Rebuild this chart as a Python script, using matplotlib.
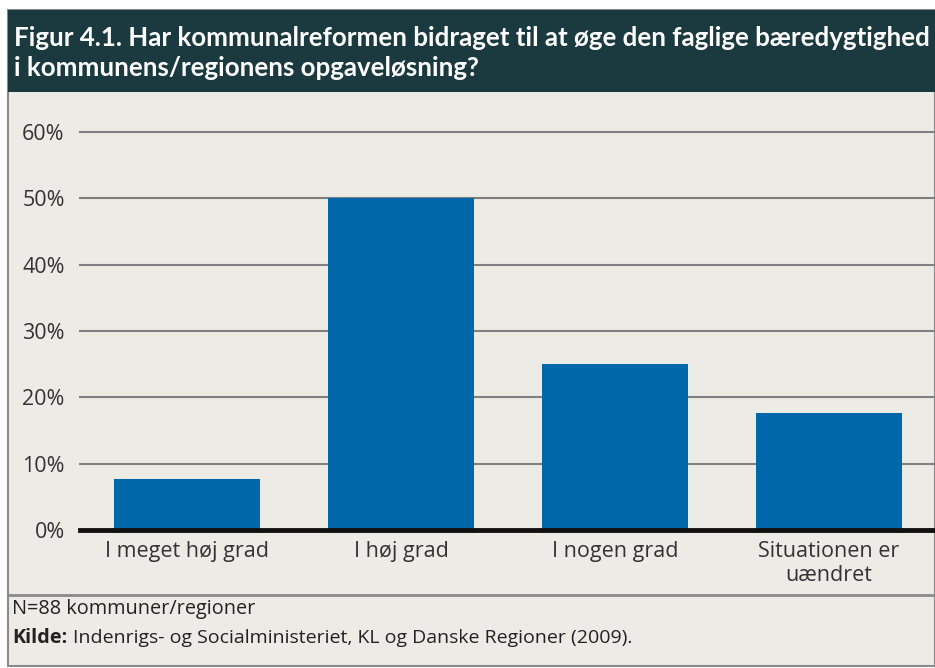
import matplotlib
matplotlib.use("Agg")
import matplotlib.pyplot as plt
from matplotlib.patches import Rectangle
from matplotlib.lines import Line2D

categories = ["I meget høj grad", "I høj grad", "I nogen grad", "Situationen er\nuændret"]
values = [7.7, 50.0, 25.0, 17.6]
yticks = [0, 10, 20, 30, 40, 50, 60]
ytick_labels = ["0%", "10%", "20%", "30%", "40%", "50%", "60%"]
title = "Figur 4.1. Har kommunalreformen bidraget til at øge den faglige bæredygtighed\ni kommunens/regionens opgaveløsning?"
note = "N=88 kommuner/regioner"
source_label = "Kilde:"
source_text = "Indenrigs- og Socialministeriet, KL og Danske Regioner (2009)."

W, H = 935, 668
fig = plt.figure(figsize=(W/100, H/100), dpi=100)
fig.patch.set_facecolor("white")

def fx(px): return px / W
def fy(py): return 1 - py / H

bg = "#ecebe6"
band = "#1b3a40"
fig.patches.append(Rectangle((fx(8), fy(666)), fx(935-8), (666-10)/H, transform=fig.transFigure,
                             facecolor=bg, edgecolor="#8a8a8a", linewidth=1.5, zorder=0))
fig.patches.append(Rectangle((fx(8), fy(92)), fx(935-8), (92-10)/H, transform=fig.transFigure,
                             facecolor=band, edgecolor="none", zorder=1))
fig.lines.append(Line2D([fx(8), 1], [fy(595), fy(595)], transform=fig.transFigure,
                        color="#8a8a8a", linewidth=2, zorder=2))

ax = fig.add_axes([fx(80), fy(530), fx(936-80), (530-132)/H], zorder=3)
ax.set_facecolor("none")
x = list(range(len(categories)))
ax.bar(x, [v/100 for v in values], width=0.68, color="#0068a8", zorder=3)
ax.set_xlim(-0.5, 3.5)
ax.set_ylim(0, 0.6)
for t in yticks[1:]:
    ax.axhline(t/100, color="#808080", linewidth=1.5, zorder=1, clip_on=False)
ax.axhline(0, color="#111111", linewidth=3.5, zorder=4, clip_on=False)
for s in ax.spines.values():
    s.set_visible(False)
ax.set_yticks([t/100 for t in yticks])
ax.set_yticklabels(ytick_labels, fontsize=15.5, color="#333333", family="Open Sans")
ax.set_xticks(x)
ax.set_xticklabels(categories, fontsize=15.5, color="#333333", family="Open Sans", linespacing=1.15)
ax.tick_params(axis="both", length=0)
ax.tick_params(axis="y", pad=11)
ax.tick_params(axis="x", pad=8)

t = fig.text(fx(14), fy(53), title, color="white", fontsize=20, fontweight="bold",
             family="Lato", va="center", ha="left", linespacing=1.3, zorder=5)
fig.canvas.draw()
r = fig.canvas.get_renderer()
bb = t.get_window_extent(r)
t.set_fontsize(20 * (925 - 14) / bb.width)

fig.text(fx(12), fy(609), note, fontsize=14.3, color="#222222", family="Open Sans", va="center", ha="left", zorder=5)
fig.text(fx(12), fy(638), source_label, fontsize=14.3, color="#222222", family="Open Sans",
         fontweight="bold", va="center", ha="left", zorder=5)
fig.text(fx(73), fy(638), source_text, fontsize=14.0, color="#222222", family="Open Sans", va="center", ha="left", zorder=5)

fig.savefig("out.png", dpi=100, facecolor="white")
